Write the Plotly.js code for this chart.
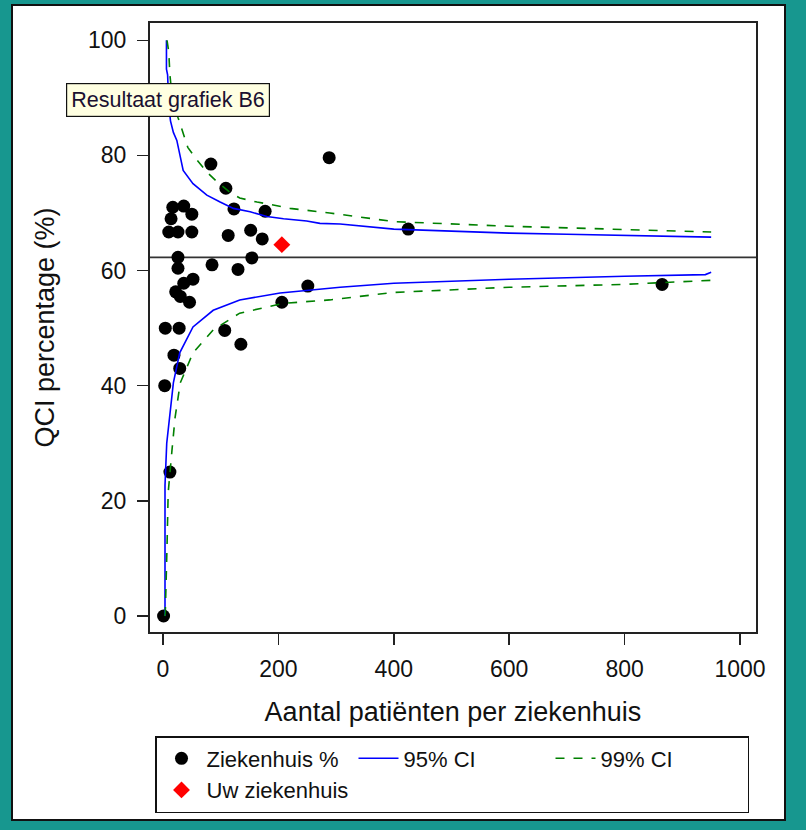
<!DOCTYPE html>
<html>
<head>
<meta charset="utf-8">
<script src="https://cdn.plot.ly/plotly-3.0.1.min.js"></script>
<style>
  html, body { margin: 0; padding: 0; background: #17978f; }
  #chart { width: 806px; height: 830px; }
</style>
</head>
<body>
<div id="chart"></div>
<script>
// Hospitals: number of patients and QCI percentage
const hospitalN = [1, 12, 3, 4, 28, 19, 29, 107, 135, 206, 251, 865, 425, 288, 83, 109, 123, 177, 113, 152, 172, 154, 130, 85,
                   17, 36, 50, 14, 10, 26, 50, 26, 26, 52, 36, 22, 46, 30];
const hospitalPct = [0, 25, 40, 50, 50, 45.3, 43, 49.6, 47.2, 54.5, 57.3, 57.6, 67.2, 79.6, 78.5, 74.3, 70.7, 70.3, 66.1, 67.0, 65.5, 62.2, 60.2, 61,
                     71.0, 71.2, 69.8, 69.0, 66.7, 66.7, 66.7, 62.3, 60.4, 58.5, 57.8, 56.3, 54.5, 55.5];

// Your hospital
const ownN = [206];
const ownPct = [64.5];

// Overall mean
const overallMean = 62.3;

// 95% control limits
const ci95UpperN = [6, 6, 8, 10, 13, 18, 24, 35, 52, 76, 99, 122, 151, 180, 209, 249, 272, 307, 400, 500, 600, 700, 800, 950];
const ci95UpperPct = [100, 95, 94, 89, 86, 84, 82.6, 77.4, 75.1, 73.1, 71.9, 70.8, 70.2, 69.4, 69.0, 68.6, 68.2, 68.1, 67.2, 66.8, 66.5, 66.3, 66.1, 65.8];
const ci95LowerN = [3.5, 3.5, 6.5, 11, 18, 29, 52, 87, 133, 203, 307, 400, 600, 800, 940, 950];
const ci95LowerPct = [0, 22.7, 30, 34.5, 40.5, 45.7, 50.2, 53.1, 54.9, 56.1, 57.1, 57.8, 58.5, 59.0, 59.3, 59.7];

// 99% control limits
const ci99UpperN = [7, 10, 12, 16, 26, 35, 43, 59, 78, 95, 116, 133, 163, 191, 220, 289, 400, 600, 800, 950];
const ci99UpperPct = [100, 98, 94, 90, 86.6, 83.8, 81.4, 79.2, 76.9, 75.3, 73.6, 72.6, 71.9, 71.4, 70.8, 70.0, 68.5, 67.7, 67.2, 66.7];
const ci99LowerN = [3, 4, 7, 9, 15.6, 21, 30, 52, 87, 133, 208, 289, 400, 600, 800, 950];
const ci99LowerPct = [0, 0.5, 12, 21.4, 28.8, 34.5, 40.5, 45.7, 49.7, 52.6, 54.3, 54.9, 56.2, 57.1, 57.6, 58.3];

const xTicks = [0, 200, 400, 600, 800, 1000];
const yTicks = [0, 20, 40, 60, 80, 100];

const FONT = 'Arial, "Liberation Sans", sans-serif';

const traces = [
  { x: hospitalN, y: hospitalPct, type: 'scatter', mode: 'markers', name: 'Ziekenhuis %',
    marker: { color: '#000000', size: 13, symbol: 'circle' } },
  { x: ci95UpperN, y: ci95UpperPct, type: 'scatter', mode: 'lines', name: '95% CI', legendgroup: 'c95',
    line: { color: '#0000ff', width: 1.6 } },
  { x: ci95LowerN, y: ci95LowerPct, type: 'scatter', mode: 'lines', name: '95% CI', legendgroup: 'c95', showlegend: false,
    line: { color: '#0000ff', width: 1.6 } },
  { x: ci99UpperN, y: ci99UpperPct, type: 'scatter', mode: 'lines', name: '99% CI', legendgroup: 'c99',
    line: { color: '#008000', width: 1.6, dash: 'dash' } },
  { x: ci99LowerN, y: ci99LowerPct, type: 'scatter', mode: 'lines', name: '99% CI', legendgroup: 'c99', showlegend: false,
    line: { color: '#008000', width: 1.6, dash: 'dash' } },
  { x: ownN, y: ownPct, type: 'scatter', mode: 'markers', name: 'Uw ziekenhuis',
    marker: { color: '#ff0000', size: 13, symbol: 'diamond' } }
];

const W = 806, H = 830;
const L = 150, R = 50, T = 23, B = 198;
const pw = W - L - R, ph = H - T - B;
const px = v => (v - L) / pw;
const py = v => (H - B - v) / ph;

const layout = {
  width: W, height: H,
  paper_bgcolor: '#17978f',
  plot_bgcolor: '#ffffff',
  margin: { l: L, r: R, t: T, b: B, pad: 0 },
  font: { family: FONT, color: '#111111', size: 23 },
  showlegend: true,
  xaxis: {
    range: [-22.5, 1027.7], tickvals: xTicks, ticktext: xTicks.map(String),
    ticks: 'outside', ticklen: 11, tickwidth: 1.5, tickcolor: '#222',
    showline: true, linecolor: '#222', linewidth: 2, mirror: true,
    showgrid: false, zeroline: false,
    tickfont: { family: FONT, size: 23, color: '#111' },
    ticklabelstandoff: 4,
    title: { text: 'Aantal patiënten per ziekenhuis', font: { family: FONT, size: 27, color: '#111' }, standoff: 22 },
    automargin: false
  },
  yaxis: {
    range: [-2.78, 103], tickvals: yTicks, ticktext: yTicks.map(String),
    ticks: 'outside', ticklen: 11, tickwidth: 1.5, tickcolor: '#222',
    showline: true, linecolor: '#222', linewidth: 2, mirror: true,
    showgrid: false, zeroline: false,
    tickfont: { family: FONT, size: 23, color: '#111' },
    ticklabelstandoff: 6,
    title: { text: 'QCI percentage (%)', font: { family: FONT, size: 27, color: '#111' }, standoff: 26 },
    automargin: false
  },
  legend: {
    orientation: 'h', x: px(155), y: py(736), xanchor: 'left', yanchor: 'top',
    bgcolor: '#ffffff', bordercolor: '#111', borderwidth: 1.5,
    font: { family: FONT, size: 22, color: '#111' },
    itemwidth: 40,
    entrywidth: 142, entrywidthmode: 'pixels', traceorder: 'normal'
  },
  shapes: [
    { type: 'rect', xref: 'paper', yref: 'paper', layer: 'below',
      x0: px(12), x1: px(785), y0: py(820), y1: py(5),
      fillcolor: '#ffffff', line: { color: '#111', width: 2 } },
    { type: 'line', xref: 'paper', yref: 'y', x0: 0, x1: 1, y0: overallMean, y1: overallMean,
      line: { color: '#333333', width: 1.8 }, layer: 'below' }
  ],
  annotations: [
    { xref: 'paper', yref: 'paper', x: px(66), y: py(83), xanchor: 'left', yanchor: 'top',
      text: 'Resultaat grafiek B6', showarrow: false,
      font: { family: FONT, size: 21.5, color: '#1a1030' },
      bgcolor: '#ffffe1', bordercolor: '#111', borderwidth: 1.2, borderpad: 4 }
  ]
};

Plotly.newPlot('chart', traces, layout, { displayModeBar: false, staticPlot: true });
</script>
</body>
</html>
